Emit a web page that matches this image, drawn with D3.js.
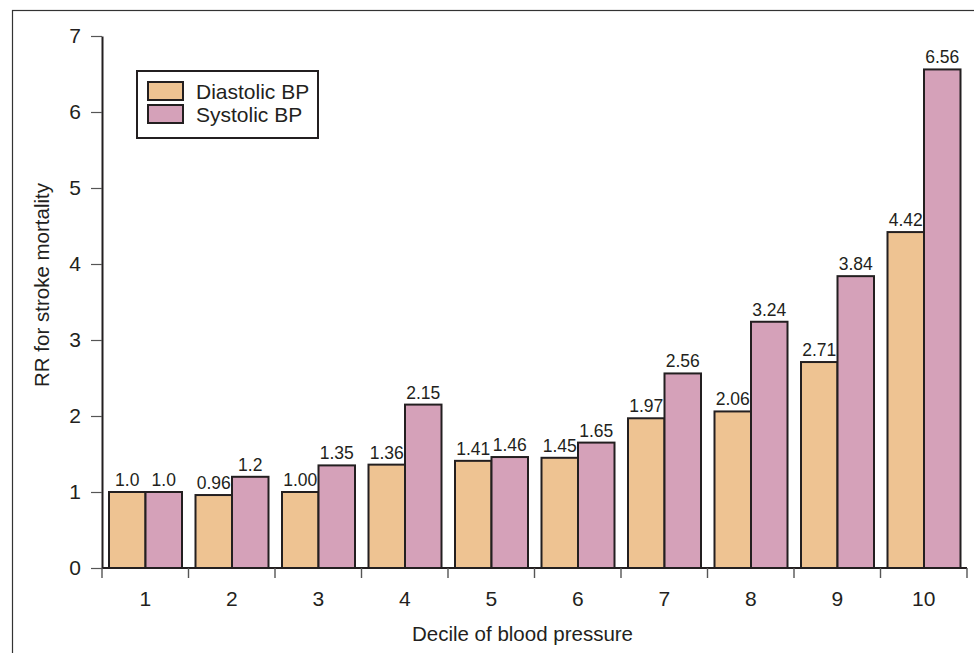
<!DOCTYPE html>
<html>
<head>
<meta charset="utf-8">
<script src="https://cdn.jsdelivr.net/npm/d3@7"></script>
<style>
    body { margin: 0; background: #fff; }
    svg text { font-family: "Liberation Sans", Arial, sans-serif; fill: #231f20; }
</style>
</head>
<body>
<div id="chart"></div>
<script>
const deciles = ['1', '2', '3', '4', '5', '6', '7', '8', '9', '10'];
const series = ['Diastolic BP', 'Systolic BP'];
const diastolic = [1.0, 0.96, 1.0, 1.36, 1.41, 1.45, 1.97, 2.06, 2.71, 4.42];
const systolic = [1.0, 1.2, 1.35, 2.15, 1.46, 1.65, 2.56, 3.24, 3.84, 6.56];
const diastolicLabels = ['1.0', '0.96', '1.00', '1.36', '1.41', '1.45', '1.97', '2.06', '2.71', '4.42'];
const systolicLabels = ['1.0', '1.2', '1.35', '2.15', '1.46', '1.65', '2.56', '3.24', '3.84', '6.56'];
const yTicks = [0, 1, 2, 3, 4, 5, 6, 7];

const COLORS = { 'Diastolic BP': '#eec392', 'Systolic BP': '#d5a1b9' };
const INK = '#231f20';

const width = 974;
const height = 653;
const margin = { top: 36, right: 7, bottom: 85, left: 102 };
const chartWidth = width - margin.left - margin.right;
const chartHeight = height - margin.top - margin.bottom;

const svg = d3.select('#chart').append('svg').attr('width', width).attr('height', height);

// outer frame, like the figure border
svg.append('rect')
    .attr('x', 12.5).attr('y', 10.5)
    .attr('width', width).attr('height', height)
    .attr('fill', 'none').attr('stroke', '#333').attr('stroke-width', 1.2);

const chart = svg.append('g').attr('transform', `translate(${margin.left}, ${margin.top})`);

const data = deciles.map((d, i) => ({
    decile: d,
    values: [
        { key: series[0], value: diastolic[i], label: diastolicLabels[i] },
        { key: series[1], value: systolic[i], label: systolicLabels[i] }
    ]
}));

const x0 = d3.scaleBand().domain(deciles).range([0, chartWidth]).padding(0);
const x1 = d3.scaleBand().domain(series).range([7, x0.bandwidth() - 6.5]).padding(0);
const y = d3.scaleLinear().domain([0, 7]).range([chartHeight, 0]);

// y axis
const yAxis = chart.append('g')
    .call(d3.axisLeft(y).tickValues(yTicks).tickFormat(d3.format('d'))
        .tickSize(11).tickPadding(10).tickSizeOuter(0));
yAxis.select('.domain').attr('stroke', INK).attr('stroke-width', 2);
yAxis.selectAll('.tick line').attr('stroke', '#555').attr('stroke-width', 1.2);
yAxis.selectAll('.tick text').attr('font-size', 21).attr('fill', INK);

// x axis: ticks at the group boundaries
const xAxis = chart.append('g').attr('transform', `translate(0, ${chartHeight})`);
xAxis.append('line')
    .attr('x1', 0).attr('x2', chartWidth)
    .attr('stroke', INK).attr('stroke-width', 2);
xAxis.selectAll('.boundary')
    .data(deciles.concat(['end']))
    .enter()
    .append('line')
    .attr('class', 'boundary')
    .attr('x1', (d, i) => i * x0.bandwidth())
    .attr('x2', (d, i) => i * x0.bandwidth())
    .attr('y1', 0).attr('y2', 10)
    .attr('stroke', '#555').attr('stroke-width', 1.4);
xAxis.selectAll('.xlabel')
    .data(deciles)
    .enter()
    .append('text')
    .attr('class', 'xlabel')
    .attr('x', (d) => x0(d) + x0.bandwidth() / 2)
    .attr('y', 38)
    .attr('text-anchor', 'middle')
    .attr('font-size', 21)
    .text((d) => d);

// bars
const groups = chart.append('g')
    .selectAll('g')
    .data(data)
    .enter()
    .append('g')
    .attr('transform', (d) => `translate(${x0(d.decile)}, 0)`);

groups.selectAll('rect')
    .data((d) => d.values)
    .enter()
    .append('rect')
    .attr('x', (d) => x1(d.key))
    .attr('y', (d) => y(d.value))
    .attr('width', x1.bandwidth())
    .attr('height', (d) => chartHeight - y(d.value))
    .attr('fill', (d) => COLORS[d.key])
    .attr('stroke', INK)
    .attr('stroke-width', 2);

// value labels
groups.selectAll('text')
    .data((d) => d.values)
    .enter()
    .append('text')
    .attr('x', (d) => x1(d.key) + x1.bandwidth() / 2)
    .attr('y', (d) => y(d.value) - 6)
    .attr('text-anchor', 'middle')
    .attr('font-size', 17.5)
    .text((d) => d.label);

// axis titles
svg.append('text')
    .attr('x', margin.left + chartWidth / 2 - 12)
    .attr('y', 641)
    .attr('text-anchor', 'middle')
    .attr('font-size', 20.5)
    .text('Decile of blood pressure');

svg.append('text')
    .attr('transform', `translate(49, 285) rotate(-90)`)
    .attr('text-anchor', 'middle')
    .attr('font-size', 20.5)
    .text('RR for stroke mortality');

// legend
const legend = svg.append('g').attr('transform', 'translate(137, 71)');
legend.append('rect')
    .attr('width', 181).attr('height', 67)
    .attr('fill', '#fff').attr('stroke', INK).attr('stroke-width', 2);
const items = legend.selectAll('.item')
    .data(series)
    .enter()
    .append('g')
    .attr('class', 'item')
    .attr('transform', (d, i) => `translate(11, ${11 + i * 23})`);
items.append('rect')
    .attr('width', 35).attr('height', 18)
    .attr('fill', (d) => COLORS[d])
    .attr('stroke', INK).attr('stroke-width', 2);
items.append('text')
    .attr('x', 48).attr('y', 16.5)
    .attr('font-size', 21)
    .text((d) => d);
</script>
</body>
</html>
